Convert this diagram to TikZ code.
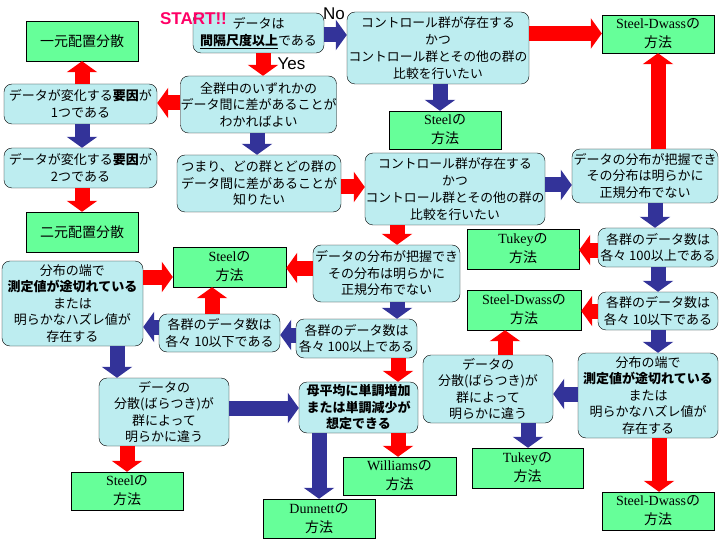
\documentclass[tikz,border=0pt]{standalone}
\usepackage{fontspec}
\setmainfont{Noto Sans CJK JP}
\newfontfamily\romfont{Liberation Serif}
\newfontfamily\labfont{Liberation Sans}
\usetikzlibrary{arrows.meta}
\definecolor{qcyan}{RGB}{189,237,240}
\definecolor{mgreen}{RGB}{102,255,153}
\definecolor{ared}{RGB}{255,0,0}
\definecolor{ablue}{RGB}{51,51,153}
\definecolor{startpink}{RGB}{255,0,102}
\tikzstyle{qbox}=[draw, rounded corners=8pt, fill=qcyan, align=center, inner sep=0pt, font=\fontsize{13}{16.5}\selectfont]
\tikzstyle{mbox}=[draw, fill=mgreen, align=center, inner sep=0pt, font=\fontsize{14}{19}\selectfont]
\tikzstyle{lab}=[inner sep=0pt, font=\labfont\fontsize{17}{17}\selectfont]
\tikzstyle{redarr}=[draw=ared, line width=15pt, -{Triangle[width=30pt,length=11pt]}]
\tikzstyle{bluarr}=[draw=ablue, line width=15pt, -{Triangle[width=30pt,length=11pt]}]
\tikzset{sz/.style 2 args={minimum width=#1pt, minimum height=#2pt}}
\newcommand{\qbox}{\node[qbox]}
\newcommand{\meth}{\node[mbox]}
\newcommand{\hoho}{\\方法}

\begin{document}
\begin{tikzpicture}[x=1pt, y=-1pt]
\useasboundingbox (0,0) rectangle (720,540);
% questions
\qbox[sz={131}{40}] (q1) at (258.5,33) {データは\\\underline{\textbf{間隔尺度以上}}である};
\qbox[sz={182}{72}, font=\fontsize{12.8}{16.8}\selectfont] (c1) at (438,48) {コントロール群が存在する\\かつ\\コントロール群とその他の群の\\比較を行いたい};
\qbox[sz={155}{57}] (a1) at (258.5,104.5) {全群中のいずれかの\\データ間に差があることが\\わかればよい};
\qbox[sz={153}{40}] (f1) at (80.5,104) {データが変化する\textbf{要因}が\\1つである};
\qbox[sz={153}{40}] (f2) at (80.5,168) {データが変化する\textbf{要因}が\\2つである};
\qbox[sz={164}{57}] (t1) at (259,183.5) {つまり、どの群とどの群の\\データ間に差があることが\\知りたい};
\qbox[sz={180}{72}, font=\fontsize{12.8}{16.8}\selectfont] (c2) at (455,189) {コントロール群が存在する\\かつ\\コントロール群とその他の群の\\比較を行いたい};
\qbox[sz={146}{54}] (dR) at (645,176) {データの分布が把握でき\\その分布は明らかに\\正規分布でない};
\qbox[sz={120}{39}] (nR100) at (658,247.5) {各群のデータ数は\\各々 100以上である};
\qbox[sz={120}{38}] (nR10) at (658,311) {各群のデータ数は\\各々 10以下である};
\qbox[sz={140}{85}] (eR) at (648,395.5) {分布の端で\\\textbf{測定値が途切れている}\\または\\明らかなハズレ値が\\存在する};
\qbox[sz={130}{68}] (vR) at (488,389) {データの\\分散(ばらつき)が\\群によって\\明らかに違う};
\qbox[sz={147}{57}] (dM) at (386.5,273.5) {データの分布が把握でき\\その分布は明らかに\\正規分布でない};
\qbox[sz={121}{39}] (nM100) at (356.5,338.5) {各群のデータ数は\\各々 100以上である};
\qbox[sz={121}{38}] (nM10) at (219.5,333) {各群のデータ数は\\各々 10以下である};
\qbox[sz={141}{85}] (eL) at (72.5,303.5) {分布の端で\\\textbf{測定値が途切れている}\\または\\明らかなハズレ値が\\存在する};
\qbox[sz={130}{68}] (vL) at (164,412) {データの\\分散(ばらつき)が\\群によって\\明らかに違う};
\qbox[sz={119}{51}, font=\fontsize{13}{16.5}\selectfont\bfseries] (mu) at (358.5,407.5) {母平均に単調増加\\または単調減少が\\想定できる};
% methods
\meth[sz={112}{40}] (g1) at (82,41) {一元配置分散};
\meth[sz={112}{40}] (g2) at (82,232) {二元配置分散};
\meth[sz={112}{38}] (sd1) at (658,34) {{\romfont Steel-Dwass}の\hoho};
\meth[sz={112}{38}] (st1) at (445,130) {{\romfont Steel}の\hoho};
\meth[sz={113}{40}] (st2) at (229.5,267) {{\romfont Steel}の\hoho};
\meth[sz={112}{40}] (tk1) at (523,249) {{\romfont Tukey}の\hoho};
\meth[sz={114}{40}] (sd2) at (524,310) {{\romfont Steel-Dwass}の\hoho};
\meth[sz={112}{38}] (st3) at (127,491) {{\romfont Steel}の\hoho};
\meth[sz={112}{39}] (dn) at (319,518.5) {{\romfont Dunnett}の\hoho};
\meth[sz={113}{38}] (wl) at (399.5,476) {{\romfont Williams}の\hoho};
\meth[sz={111}{40}] (tk2) at (527.5,468) {{\romfont Tukey}の\hoho};
\meth[sz={112}{38}] (sd3) at (658,511) {{\romfont Steel-Dwass}の\hoho};
% labels
\node[lab, font=\labfont\bfseries\fontsize{17}{17}\selectfont, text=startpink] (start) at (193.5,18.5) {START!!};
\node[lab] (no) at (334,14) {No};
\node[lab] (yes) at (291.5,64) {Yes};
% arrows
\path
([yshift=-2pt]q1.east) edge[bluarr] ([yshift=-2pt]q1.east -| c1.west)
([xshift=4.5pt]q1.south) edge[redarr] ([xshift=4.5pt]q1.south |- a1.north)
([yshift=1.5pt]a1.west) edge[redarr] ([yshift=1.5pt]a1.west -| f1.east)
([xshift=1.5pt]f1.north) edge[redarr] ([xshift=1.5pt]f1.north |- g1.south)
([xshift=1.5pt]f1.south) edge[bluarr] ([xshift=1.5pt]f1.south |- f2.north)
([xshift=1.5pt]f2.south) edge[redarr] ([xshift=1.5pt]f2.south |- g2.north)
([xshift=-1.5pt]a1.south) edge[bluarr] ([xshift=-1.5pt]a1.south |- t1.north)
([yshift=-3.5pt]t1.east) edge[redarr] ([yshift=-3.5pt]t1.east -| c2.west)
;
\path
([yshift=14.5pt]c1.east) edge[redarr] ([yshift=14.5pt]c1.east -| sd1.west)
([xshift=2pt]c1.south) edge[bluarr] ([xshift=2pt]c1.south |- st1.north)
([yshift=4pt]c2.east) edge[bluarr] ([yshift=4pt]c2.east -| dR.west)
([xshift=13pt]dR.north) edge[redarr] ([xshift=13pt]dR.north |- sd1.south)
([xshift=10pt]dR.south) edge[bluarr] ([xshift=10pt]dR.south |- nR100.north)
([yshift=-2.5pt]nR100.west) edge[redarr] ([yshift=-2.5pt]nR100.west -| tk1.east)
(nR100.south) edge[bluarr] (nR10.north)
(nR10.west) edge[redarr] (nR10.west -| sd2.east)
(nR10.south) edge[bluarr] (nR10.south |- eR.north)
([yshift=1.5pt]eR.west) edge[bluarr] ([yshift=1.5pt]eR.west -| vR.east)
([xshift=17pt]vR.north) edge[redarr] ([xshift=17pt]vR.north |- sd2.south)
([xshift=40pt]vR.south) edge[bluarr] ([xshift=40pt]vR.south |- tk2.north)
([xshift=11pt]eR.south) edge[redarr] ([xshift=11pt]eR.south |- sd3.north)
;
\path
([xshift=-58pt]c2.south) edge[redarr] ([xshift=-58pt]c2.south |- dM.north)
([yshift=5.5pt]dM.west) edge[redarr] ([yshift=5.5pt]dM.west -| st2.east)
([xshift=10.5pt]dM.south) edge[bluarr] ([xshift=10.5pt]dM.south |- nM100.north)
([yshift=3.5pt]nM100.west) edge[bluarr] ([yshift=3.5pt]nM100.west -| nM10.east)
([yshift=6pt]nM10.west) edge[bluarr] ([yshift=6pt]nM10.west -| eL.east)
([xshift=-7.5pt]nM10.north) edge[redarr] ([xshift=-7.5pt]nM10.north |- st2.south)
([yshift=26.5pt]eL.east) edge[redarr] ([yshift=26.5pt]eL.east -| st2.west)
([xshift=44.5pt]eL.south) edge[bluarr] ([xshift=44.5pt]eL.south |- vL.north)
([yshift=4pt]vL.east) edge[bluarr] ([yshift=4pt]vL.east -| mu.west)
([xshift=-37pt]vL.south) edge[redarr] ([xshift=-37pt]vL.south |- st3.north)
([xshift=41.5pt]nM100.south) edge[redarr] ([xshift=41.5pt]nM100.south |- mu.north)
([xshift=-39.5pt]mu.south) edge[bluarr] ([xshift=-39.5pt]mu.south |- dn.north)
([xshift=39.5pt]mu.south) edge[redarr] ([xshift=39.5pt]mu.south |- wl.north)
;
\end{tikzpicture}
\end{document}
